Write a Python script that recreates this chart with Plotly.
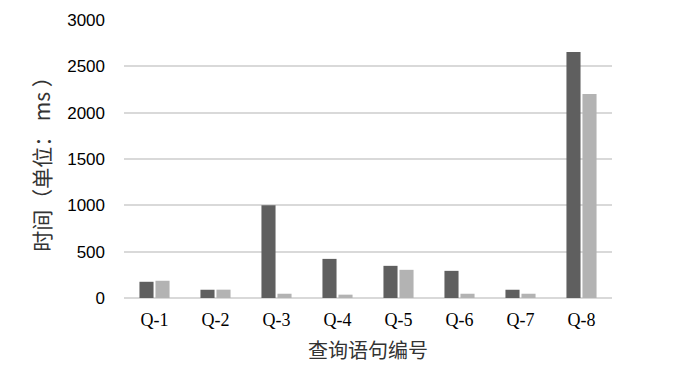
import plotly.graph_objects as go

categories = ["Q-1", "Q-2", "Q-3", "Q-4", "Q-5", "Q-6", "Q-7", "Q-8"]
series_a = [175, 89, 1000, 422, 347, 293, 89, 2655]
series_b = [186, 90, 46, 36, 304, 46, 46, 2201]
y_ticks = [0, 500, 1000, 1500, 2000, 2500, 3000]

fig = go.Figure()
fig.add_trace(go.Bar(x=categories, y=series_a, marker=dict(color="#5f5f5f", line=dict(width=0)), showlegend=False))
fig.add_trace(go.Bar(x=categories, y=series_b, marker=dict(color="#b3b3b3", line=dict(width=0)), showlegend=False))

fig.update_layout(
    width=684, height=374,
    margin=dict(l=124, r=72, t=20, b=76),
    paper_bgcolor="white", plot_bgcolor="white",
    barmode="group", bargap=0.475, bargroupgap=0.12,
    font=dict(family="Liberation Sans", color="#000000"),
)
fig.update_yaxes(
    range=[0, 3000], tickvals=y_ticks, showgrid=True, gridcolor="#d9d9d9", gridwidth=2,
    zeroline=True, zerolinecolor="#d9d9d9", zerolinewidth=2, showline=False,
    tickfont=dict(family="Liberation Sans", size=17, color="#000000"),
    ticklabelstandoff=18,
    title=dict(text="时间（单位：\u00a0ms\u00a0）", font=dict(family="Noto Sans CJK SC", size=21, color="#333333"), standoff=10),
)
fig.update_xaxes(
    showline=False, showgrid=False,
    tickfont=dict(family="Liberation Serif", size=18, color="#000000"),
    ticklabelstandoff=9,
    title=dict(text="查询语句编号", font=dict(family="Noto Sans CJK SC", size=20, color="#333333"), standoff=14),
)

fig.write_html("out.html")
